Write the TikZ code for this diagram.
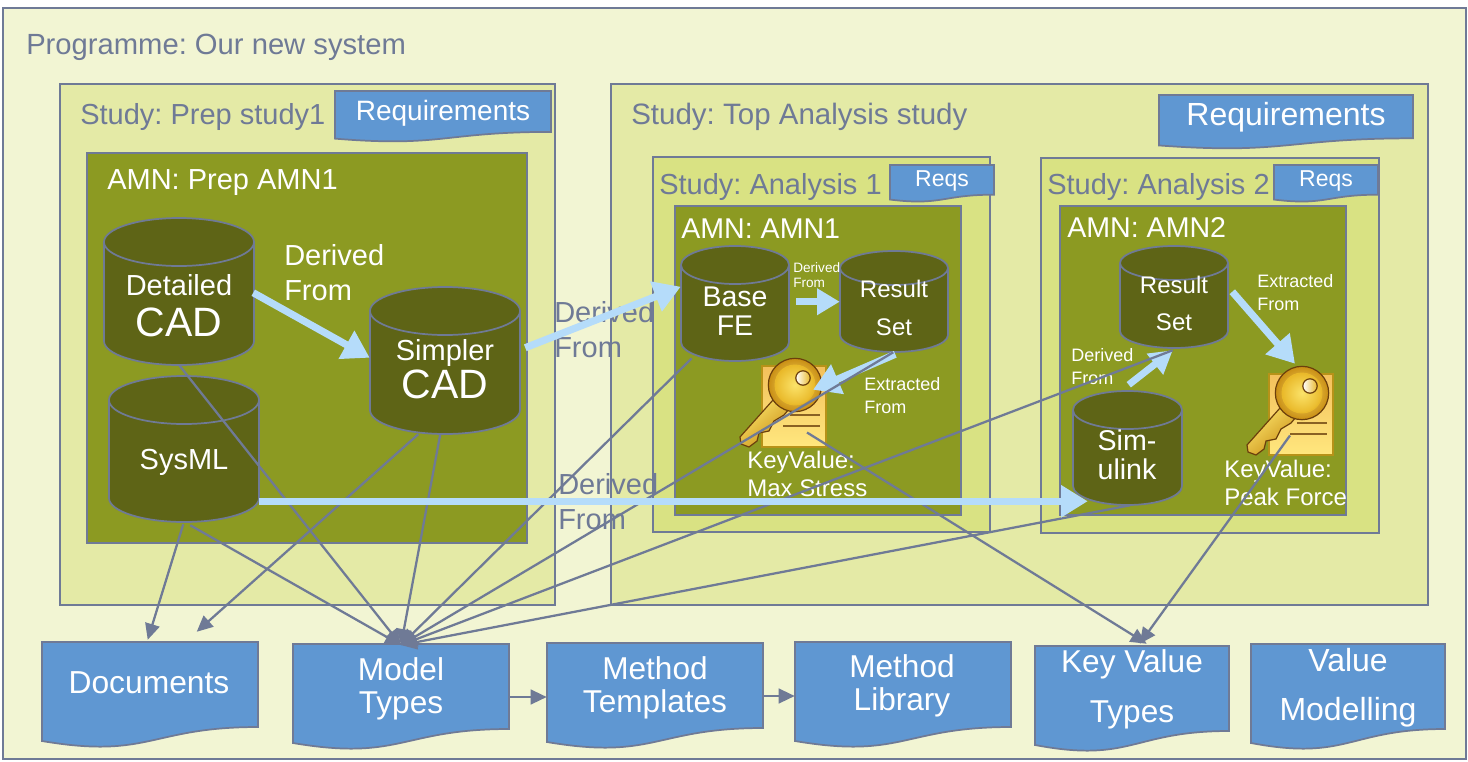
\documentclass[tikz,border=0pt]{standalone}
\usepackage{fontspec}
\setmainfont{Liberation Sans}
\usetikzlibrary{arrows.meta,fit,calc}
\definecolor{edgegray}{HTML}{6F7A96}
\definecolor{outerfill}{HTML}{F2F5D3}
\definecolor{studyfill}{HTML}{E4EAA6}
\definecolor{innerfill}{HTML}{D9E283}
\definecolor{amnfill}{HTML}{8C9A22}
\definecolor{cylfill}{HTML}{5E6416}
\definecolor{docfill}{HTML}{5F97D2}
\definecolor{flow}{HTML}{B5DCFA}
\definecolor{keyedge}{HTML}{6B3F0C}
\definecolor{keygold}{HTML}{E9B92A}
\definecolor{keypale}{HTML}{FBE36A}
\definecolor{keyrim}{HTML}{C98E14}
\definecolor{notetop}{HTML}{F3C05C}
\definecolor{notebot}{HTML}{FFE77E}
\newcommand\fs[1]{\fontsize{\fpeval{#1*0.75}}{\fpeval{#1*0.75}}\selectfont}
\tikzset{
  panel/.style={draw=edgegray,line width=1.3pt},
  zonebox/.style={inner sep=0pt,draw=none},
  lab/.style={inner sep=0pt,align=center,text=white},
  greylab/.style={inner sep=0pt,align=left,text=edgegray,anchor=west},
  whitelab/.style={inner sep=0pt,align=left,text=white,anchor=west},
  thick flow/.style={draw=flow,line width=5.4pt,-{Triangle[length=20pt,width=23pt]}},
  small flow/.style={draw=flow,line width=5.2pt,-{Triangle[length=17pt,width=19pt]}},
  link/.style={draw=edgegray,line width=1.7pt,-{Triangle[length=12pt,width=11pt]}},
}
% name x0 y0 x1 y1 fill
\newcommand\panelbox[6]{%
  \node[fit={(#2,#3)(#4,#5)},zonebox,panel,fill=#6] (#1) {};}
% name x0 y0 x1 y1 ry
\newcommand\cyl[6]{%
  \node[fit={(#2,#3)(#4,#5)},zonebox] (#1) {};
  \pgfmathsetmacro\xm{(#2+#4)/2}\pgfmathsetmacro\rx{(#4-#2)/2}
  \pgfmathsetmacro\kx{0.5523*\rx}\pgfmathsetmacro\ky{0.5523*#6}
  \pgfmathsetmacro\ta{#3+#6}\pgfmathsetmacro\tb{#5-#6}
  \draw[panel,fill=cylfill] (#2,\ta) -- (#2,\tb)
    .. controls (#2,\tb+\ky) and (\xm-\kx,#5) .. (\xm,#5)
    .. controls (\xm+\kx,#5) and (#4,\tb+\ky) .. (#4,\tb)
    -- (#4,\ta)
    .. controls (#4,\ta-\ky) and (\xm+\kx,#3) .. (\xm,#3)
    .. controls (\xm-\kx,#3) and (#2,\ta-\ky) .. (#2,\ta) -- cycle;
  \draw[panel] (#2,\ta) .. controls (#2,\ta+\ky) and (\xm-\kx,\ta+#6) .. (\xm,\ta+#6)
    .. controls (\xm+\kx,\ta+#6) and (#4,\ta+\ky) .. (#4,\ta);
}
% name x0 y0 x1 y1
\newcommand\docshape[5]{%
  \node[fit={(#2,#3)(#4,#5)},zonebox] (#1) {};
  \pgfmathsetmacro\hh{#5-#3}\pgfmathsetmacro\xm{(#2+#4)/2}
  \pgfmathsetmacro\yr{#3+0.802*\hh}\pgfmathsetmacro\yl{#3+0.934*\hh}\pgfmathsetmacro\yc{#3+1.107*\hh}
  \draw[panel,fill=docfill] (#2,#3) -- (#4,#3) -- (#4,\yr)
    .. controls (\xm,\yr) and (\xm,\yc) .. (#2,\yl) -- cycle;
}
% name cx cy (key head centre)
\newcommand\keyicon[3]{%
  \begin{scope}[shift={(#2,#3)}]
    \node[fit={(-55,-27)(31,62)},zonebox] (#1) {};
    \fill[top color=notetop,bottom color=notebot,draw=keyrim!70!amnfill,line width=.8pt] (-33,-19) rectangle (31,62);
    \draw[keyedge!80!notebot,line width=1.3pt] (-5,30) -- (25,30) (-12,41) -- (25,41);
    \draw[keyedge,line width=.9pt,top color=keypale,bottom color=keyrim,shading angle=40]
      (-22,15) -- (-55,52) -- (-54,59) -- (-46,62) -- (-38,56) -- (-36,48) -- (-26,46) -- (-21,36) -- (-11,30) -- (-6,24) -- cycle;
    \draw[keyedge,line width=.9pt,inner color=keypale,outer color=keyrim] (0,0) circle [radius=20pt];
    \draw[keygold,line width=.7pt,inner color=keypale,outer color=keygold] (0,0) circle [radius=15pt];
    \draw[keyedge,line width=.9pt,left color=white,right color=keygold] (8,-7) circle [radius=5.4pt];
  \end{scope}}
\begin{document}
\frenchspacing
\begin{tikzpicture}[x=0.75pt,y=-0.75pt]
\useasboundingbox (0,0) rectangle (1468,761);
\panelbox{outer}{3}{8}{1466}{759}{outerfill}
\panelbox{prepstudy}{60}{84}{555}{605}{studyfill}
\panelbox{prepamn}{87}{153}{527}{543}{amnfill}
\panelbox{topstudy}{611}{84}{1428}{605}{studyfill}
\panelbox{anaone}{653}{157}{990}{532}{innerfill}
\panelbox{amnone}{675}{206}{961}{515}{amnfill}
\panelbox{anatwo}{1041}{158}{1379}{533}{innerfill}
\panelbox{amntwo}{1060}{206}{1346}{515}{amnfill}

\node[greylab,font=\fs{29.2}] (tprog) at (26,47) {Programme: Our new system};
\node[greylab,font=\fs{29}] (tprep) at (80,117) {Study: Prep study1};
\node[greylab,font=\fs{29.5}] (ttop) at (631,117) {Study: Top Analysis study};
\node[greylab,font=\fs{29}] (tana1) at (659,187) {Study: Analysis 1};
\node[greylab,font=\fs{29}] (tana2) at (1047,187) {Study: Analysis 2};
\node[whitelab,font=\fs{29}] (tamnp) at (107,183) {AMN: Prep AMN1};
\node[whitelab,font=\fs{28.6}] (tamn1) at (681,229) {AMN: AMN1};
\node[whitelab,font=\fs{28.6}] (tamn2) at (1067,228) {AMN: AMN2};

\docshape{reqa}{335}{91}{551}{142}
\docshape{reqb}{1159}{95}{1413}{149}
\docshape{reqc}{890}{165}{994}{202}
\docshape{reqd}{1274}{165}{1378}{202}
\node[lab,font=\fs{28}] at (443,113) {Requirements};
\node[lab,font=\fs{32}] at (1286,117) {Requirements};
\node[lab,font=\fs{23}] at (942,181) {Reqs};
\node[lab,font=\fs{23}] at (1326,181) {Reqs};

\docshape{docs}{42}{642}{258}{748}
\docshape{model}{293}{644}{509}{750}
\docshape{templ}{547}{643}{763}{749}
\docshape{libr}{795}{642}{1011}{748}
\docshape{kvt}{1035}{646}{1229}{752}
\docshape{vmod}{1251}{644}{1445}{750}
\node[lab,font=\fs{31.8}] at (149,683) {Documents};
\node[lab,font=\fs{31.6}] at (401,689) {Model\\[1pt]Types};
\node[lab,font=\fs{31.6}] at (655,688) {Method\\[1pt]Templates};
\node[lab,font=\fs{31.6}] at (902,686) {Method\\[1pt]Library};
\node[lab,font=\fs{31.6}] at (1132,664) {Key Value};
\node[lab,font=\fs{31.6}] at (1132,715) {Types};
\node[lab,font=\fs{32}] at (1348,660) {Value};
\node[lab,font=\fs{32}] at (1348,712) {Modelling};

\cyl{detail}{104}{218}{254}{365}{24}
\cyl{simpler}{370}{287}{520}{434}{24}
\cyl{sysml}{109}{376}{259}{522}{24}
\cyl{base}{681}{246}{789}{361}{19}
\cyl{resa}{840}{251}{948}{352}{17}
\cyl{resb}{1120}{246}{1228}{348}{17}
\cyl{simu}{1073}{391}{1182}{505}{19}

\node[lab,font=\fs{29}] at (179,285) {Detailed};
\node[lab,font=\fs{41}] at (179,322) {CAD};
\node[lab,font=\fs{29}] at (445,353) {Simpler};
\node[lab,font=\fs{41}] at (445,384) {CAD};
\node[lab,font=\fs{29}] at (184,462) {SysML};
\node[lab,font=\fs{28.5}] at (735,311) {Base\\FE};
\node[lab,font=\fs{24}] at (894,289) {Result};
\node[lab,font=\fs{24}] at (894,327) {Set};
\node[lab,font=\fs{24}] at (1174,285) {Result};
\node[lab,font=\fs{24}] at (1174,322) {Set};
\node[lab,font=\fs{28.6}] at (1127,455) {Sim-\\ulink};

\keyicon{keyone}{795}{385}
\keyicon{keytwo}{1302}{393}

\node[whitelab,font=\fs{29}] at (284,273) {Derived\\[4.5pt]From};
\node[greylab,font=\fs{29}] at (554,330) {Derived\\[4.5pt]From};
\node[greylab,font=\fs{29}] at (558,502) {Derived\\[4.5pt]From};
\node[whitelab,font=\fs{13.6}] at (793,275) {Derived\\[1pt]From};
\node[whitelab,font=\fs{18}] at (864,396) {Extracted\\[3.7pt]From};
\node[whitelab,font=\fs{18}] at (1257,293) {Extracted\\[3.7pt]From};
\node[whitelab,font=\fs{18}] at (1071,367) {Derived\\[3.7pt]From};
\node[whitelab,font=\fs{24}] at (747,474) {KeyValue:\\[3pt]Max Stress};
\node[whitelab,font=\fs{24}] at (1224,483) {KeyValue:\\[3pt]Peak Force};

% thick flows
\draw[thick flow] ([shift={(-1,75)}]detail.north east) -- ([shift={(0,71)}]simpler.north west);
\draw[thick flow] ([shift={(5,61)}]simpler.north east) -- ([shift={(0,41)}]base.north west);
\draw[small flow] ([shift={(7,56)}]base.north east) -- ([shift={(0,51)}]resa.north west);
\draw[thick flow] ([shift={(-53,2)}]resa.south east) -- ([shift={(30,32)}]keyone.north);
\draw[small flow] ([shift={(56,-6)}]simu.north west) -- ([shift={(53,2)}]resb.south west);
\draw[thick flow] ([shift={(4,46)}]resb.north east) -- ([shift={(5,-2)}]keytwo.north);

% thin links
\draw[link] ([shift={(-75,0)}]detail.south east) -- ([yshift=-1]model.north);
\draw[link] ([shift={(-76,2)}]sysml.south east) -- ([shift={(106,-2)}]docs.north west);
\draw[link] ([shift={(-102,0)}]simpler.south east) -- ([shift={(155,-10)}]docs.north west);
\draw[link] ([shift={(-69,3)}]sysml.south east) -- ([yshift=-1]model.north);
\draw[link] ([shift={(-80,0)}]simpler.south east) -- ([yshift=-1]model.north);
\draw[link] ([shift={(11,-3)}]base.south west) -- ([yshift=-1]model.north);
\draw[link] ([shift={(-55,0)}]resa.south east) -- ([yshift=-1]model.north);
\draw[link] ([shift={(53,2)}]resb.south west) -- ([yshift=-1]model.north);
\draw[link] ([shift={(-52,0)}]simu.south east) -- ([yshift=-1]model.north);
\draw[link] ([shift={(24,30)}]keyone.center) -- ([shift={(112,-2)}]kvt.north west);
\draw[link] ([shift={(0,25)}]keytwo.center) -- ([shift={(105,-2)}]kvt.north west);
\draw[link] (model.east) -- (model.east -| templ.west);
\draw[link] (templ.east) -- (templ.east -| libr.west);

% long flow over links
\draw[thick flow] ([shift={(0,-21)}]sysml.south east) -- ([shift={(15,-4)}]simu.south west);
\end{tikzpicture}
\end{document}
